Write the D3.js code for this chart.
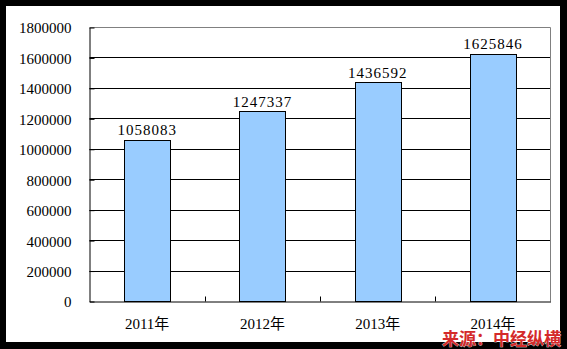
<!DOCTYPE html>
<html lang="zh">
<head>
<meta charset="UTF-8">
<title>柱状图</title>
<script src="https://cdn.jsdelivr.net/npm/d3@7"></script>
<style>
  body { margin: 0; background: #000; }
</style>
</head>
<body>
<script>
// data
var years = ["2011年", "2012年", "2013年", "2014年"];
var values = [1058083, 1247337, 1436592, 1625846];
var yTicks = [0, 200000, 400000, 600000, 800000, 1000000, 1200000, 1400000, 1600000, 1800000];
var source = "来源：中经纵横";

var width = 567, height = 349;
var plotLeft = 89.5, plotRight = 550.5, plotTop = 27.5, plotBottom = 301.5;
var numFont = "'Liberation Serif', 'Noto Sans CJK SC', serif";

var svg = d3.select("body").append("svg")
    .attr("width", width)
    .attr("height", height)
    .style("display", "block");

// black frame + white card
svg.append("rect").attr("width", width).attr("height", height).attr("fill", "#000");
svg.append("rect").attr("x", 6).attr("y", 6).attr("width", 554).attr("height", 336).attr("fill", "#fff");

var x = d3.scaleBand().domain(years).range([plotLeft, plotRight]).paddingInner(0.6).paddingOuter(0.3);
var xb = d3.scaleBand().domain(years).range([plotLeft, plotRight]);
var y = d3.scaleLinear().domain([0, 1800000]).range([plotBottom, plotTop]);

// gridlines
svg.append("g").selectAll("line")
    .data(yTicks.slice(1, -1))
    .enter().append("line")
    .attr("x1", plotLeft).attr("x2", plotRight)
    .attr("y1", function (d) { return Math.floor(y(d)) + 0.5; })
    .attr("y2", function (d) { return Math.floor(y(d)) + 0.5; })
    .attr("stroke", "#000");

// plot border top/right gray
svg.append("path")
    .attr("d", "M" + plotLeft + "," + plotTop + "H" + plotRight + "V" + plotBottom)
    .attr("fill", "none").attr("stroke", "#808080");

// bars
svg.append("g").selectAll("rect")
    .data(values)
    .enter().append("rect")
    .attr("x", function (d, i) { return Math.round(x(years[i])) + 0.5; })
    .attr("y", function (d) { return Math.floor(y(d)) + 0.5; })
    .attr("width", Math.round(x.bandwidth()))
    .attr("height", function (d) { return Math.floor(y(0)) - Math.floor(y(d)); })
    .attr("fill", "#99CCFF")
    .attr("stroke", "#000");

// y axis
var yAxis = svg.append("g")
    .attr("transform", "translate(" + plotLeft + ",0)")
    .call(d3.axisLeft(y).tickValues(yTicks).tickSizeInner(-5).tickSizeOuter(0).tickPadding(18)
        .tickFormat(d3.format("d")));
yAxis.select(".domain").attr("stroke", "#000");
yAxis.selectAll(".tick line").attr("stroke", "#000");
yAxis.selectAll(".tick text")
    .attr("font-family", numFont).attr("font-size", "15px").attr("fill", "#000").attr("dy", "0.36em");

// x axis
var xAxis = svg.append("g")
    .attr("transform", "translate(0," + plotBottom + ")")
    .call(d3.axisBottom(xb).tickSize(0).tickPadding(17));
xAxis.select(".domain").attr("stroke", "#000");
xAxis.selectAll(".tick text")
    .attr("font-family", numFont).attr("font-size", "15px").attr("fill", "#000");

// inner tick marks at category boundaries
svg.append("g").selectAll("line")
    .data(years.slice(1))
    .enter().append("line")
    .attr("x1", function (d) { return Math.round(xb(d)) + 0.5; })
    .attr("x2", function (d) { return Math.round(xb(d)) + 0.5; })
    .attr("y1", plotBottom).attr("y2", plotBottom - 5)
    .attr("stroke", "#000");

// value labels
svg.append("g").selectAll("text")
    .data(values)
    .enter().append("text")
    .attr("x", function (d, i) { return x(years[i]) + x.bandwidth() / 2; })
    .attr("y", function (d) { return y(d) - 5; })
    .attr("text-anchor", "middle")
    .attr("font-family", numFont)
    .attr("font-size", "15px")
    .attr("letter-spacing", "1px")
    .attr("fill", "#000")
    .text(function (d) { return d; });

// source watermark
svg.append("text")
    .attr("x", 561).attr("y", 344.5)
    .attr("text-anchor", "end")
    .attr("font-family", "'Noto Sans CJK SC', sans-serif")
    .attr("font-weight", "bold")
    .attr("font-size", "17px")
    .attr("fill", "#D42A2A")
    .attr("stroke", "#fff")
    .attr("stroke-width", 0.6)
    .attr("paint-order", "stroke")
    .text(source);
</script>
</body>
</html>
